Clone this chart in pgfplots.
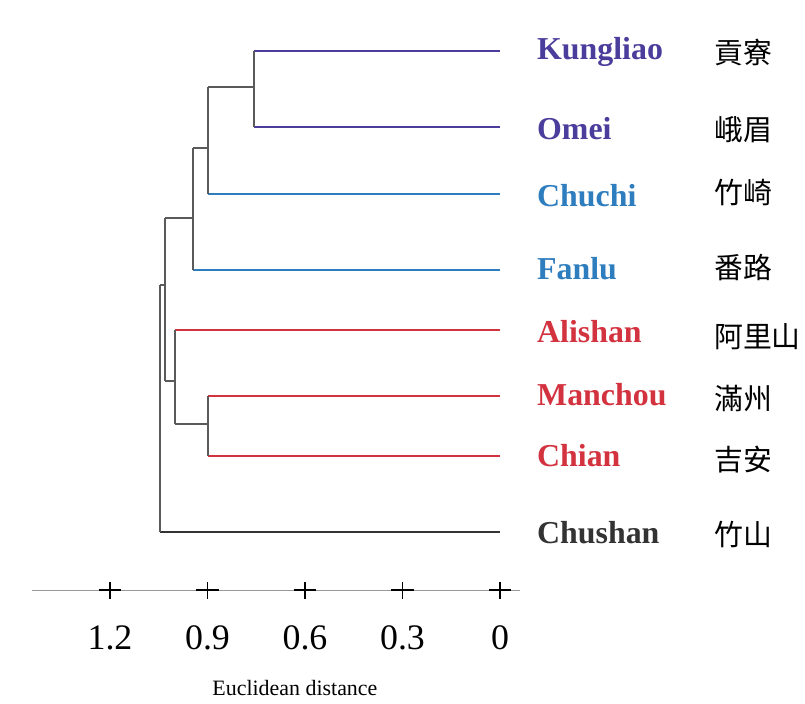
\documentclass[border=0pt]{standalone}
\usepackage{pgfplots}
\pgfplotsset{compat=1.18}
\usepackage{fontspec}
\setmainfont{Liberation Serif}
\newfontfamily\cjk{Noto Sans CJK TC}
\definecolor{cpurple}{HTML}{4B3D9C}
\definecolor{cblue}{HTML}{2E7DBE}
\definecolor{cred}{HTML}{D3323F}
\definecolor{cdark}{HTML}{333333}
\definecolor{cgray}{HTML}{5A5A5A}
\begin{document}
\begin{tikzpicture}
\useasboundingbox (0,0) rectangle (805bp,704bp);
\fill[white] (0,0) rectangle (805bp,704bp);
\begin{axis}[
  scale only axis, width=805bp, height=704bp,
  x dir=reverse, y dir=reverse,
  xmin=-0.93846, xmax=1.53846, ymin=0, ymax=704,
  hide axis, clip=false,
  every axis plot/.append style={line width=1.5bp},
]
% leaf branches
\addplot[cpurple, mark=none] coordinates {(0.757,51) (0,51)};
\addplot[cpurple, mark=none] coordinates {(0.757,127) (0,127)};
\addplot[cblue, mark=none] coordinates {(0.898,194) (0,194)};
\addplot[cblue, mark=none] coordinates {(0.945,270) (0,270)};
\addplot[cred, mark=none] coordinates {(1.000,330) (0,330)};
\addplot[cred, mark=none] coordinates {(0.898,396) (0,396)};
\addplot[cred, mark=none] coordinates {(0.898,456) (0,456)};
\addplot[cdark, mark=none] coordinates {(1.046,532) (0,532)};
% internal links
\addplot[cgray, mark=none] coordinates {(0.757,51) (0.757,127)};
\addplot[cgray, mark=none] coordinates {(0.757,87) (0.898,87)};
\addplot[cgray, mark=none] coordinates {(0.898,87) (0.898,194)};
\addplot[cgray, mark=none] coordinates {(0.898,148) (0.945,148)};
\addplot[cgray, mark=none] coordinates {(0.945,148) (0.945,270)};
\addplot[cgray, mark=none] coordinates {(0.945,218) (1.031,218)};
\addplot[cgray, mark=none] coordinates {(1.031,218) (1.031,381)};
\addplot[cgray, mark=none] coordinates {(1.031,381) (1.000,381)};
\addplot[cgray, mark=none] coordinates {(1.000,330) (1.000,424)};
\addplot[cgray, mark=none] coordinates {(1.000,424) (0.898,424)};
\addplot[cgray, mark=none] coordinates {(0.898,396) (0.898,456)};
\addplot[cgray, mark=none] coordinates {(1.031,285) (1.046,285)};
\addplot[cgray, mark=none] coordinates {(1.046,285) (1.046,532)};
% distance axis
\addplot[gray!80, line width=1bp, mark=none] coordinates {(1.44,590) (-0.062,590)};
% tick crosses
\addplot[black, line width=1.3bp, mark=none] coordinates {(1.2,582) (1.2,599)};
\addplot[black, line width=1.3bp, mark=none] coordinates {(0.9,582) (0.9,599)};
\addplot[black, line width=1.3bp, mark=none] coordinates {(0.6,582) (0.6,599)};
\addplot[black, line width=1.3bp, mark=none] coordinates {(0.3,582) (0.3,599)};
\addplot[black, line width=1.3bp, mark=none] coordinates {(0,582) (0,599)};
\addplot[black, line width=1.3bp, mark=none] coordinates {(1.234,590) (1.166,590)};
\addplot[black, line width=1.3bp, mark=none] coordinates {(0.934,590) (0.866,590)};
\addplot[black, line width=1.3bp, mark=none] coordinates {(0.634,590) (0.566,590)};
\addplot[black, line width=1.3bp, mark=none] coordinates {(0.334,590) (0.266,590)};
\addplot[black, line width=1.3bp, mark=none] coordinates {(0.034,590) (-0.034,590)};
\begin{scope}[every node/.style={font=\fontsize{36}{36}\selectfont, text=black}]
\node at (axis cs:1.2,638) {1.2};
\node at (axis cs:0.9,638) {0.9};
\node at (axis cs:0.6,638) {0.6};
\node at (axis cs:0.3,638) {0.3};
\node at (axis cs:0,638) {0};
\end{scope}
\node[font=\fontsize{22}{22}\selectfont, text=black] at (axis cs:0.631,688) {Euclidean distance};
% leaf labels
\begin{scope}[every node/.style={anchor=west, inner sep=0pt, font=\fontsize{32}{32}\selectfont\bfseries}]
\node[text=cpurple] at (axis cs:-0.1138,52) {Kungliao};
\node[text=cpurple] at (axis cs:-0.1138,129) {Omei};
\node[text=cblue] at (axis cs:-0.1138,196) {Chuchi};
\node[text=cblue] at (axis cs:-0.1138,269) {Fanlu};
\node[text=cred] at (axis cs:-0.1138,332) {Alishan};
\node[text=cred] at (axis cs:-0.1138,395) {Manchou};
\node[text=cred] at (axis cs:-0.1138,456) {Chian};
\node[text=cdark] at (axis cs:-0.1138,533) {Chushan};
\end{scope}
\begin{scope}[every node/.style={anchor=west, inner sep=0pt, text=black, font=\cjk\fontsize{29}{29}\selectfont}]
\node at (axis cs:-0.6585,52) {貢寮};
\node at (axis cs:-0.6585,130) {峨眉};
\node at (axis cs:-0.6585,193) {竹崎};
\node at (axis cs:-0.6585,268) {番路};
\node at (axis cs:-0.6585,337) {阿里山};
\node at (axis cs:-0.6585,398) {滿州};
\node at (axis cs:-0.6585,460) {吉安};
\node at (axis cs:-0.6585,535) {竹山};
\end{scope}
\end{axis}
\end{tikzpicture}
\end{document}
